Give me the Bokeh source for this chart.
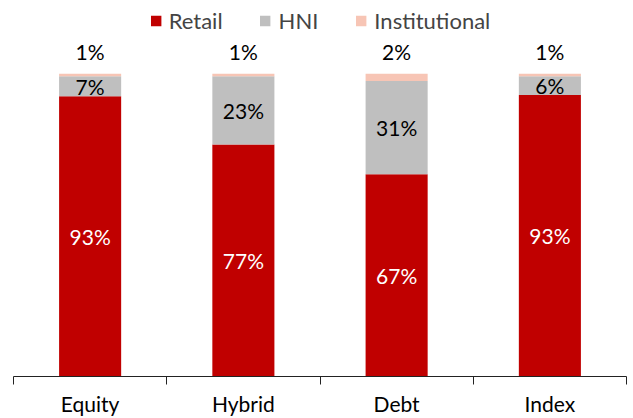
from bokeh.plotting import figure
from bokeh.models import ColumnDataSource, FixedTicker, Legend, LegendItem, Range1d
from bokeh.core.properties import value
from bokeh.embed import file_html
from bokeh.resources import INLINE

categories = ["Equity", "Hybrid", "Debt", "Index"]
retail = [92.6, 76.6, 66.8, 93.0]
hni = [6.6, 22.6, 30.8, 6.2]
institutional = [0.8, 0.8, 2.4, 0.8]

FONT = "Lato"
RED = "#C00000"
GREY = "#BFBFBF"
PINK = "#F7C5B5"

x = list(range(len(categories)))
hni_top = [r + h for r, h in zip(retail, hni)]
inst_top = [t + i for t, i in zip(hni_top, institutional)]

src = ColumnDataSource(dict(
    x=x,
    retail=retail,
    hni_bottom=retail,
    hni_top=hni_top,
    inst_top=inst_top,
    retail_mid=[r / 2 for r in retail],
    hni_mid=[r + h / 2 for r, h in zip(retail, hni)],
    inst_lab_y=[t + 7.3 for t in inst_top],
    retail_txt=[f"{round(v)}%" for v in retail],
    hni_txt=[f"{round(v)}%" for v in hni],
    inst_txt=[f"{round(v)}%" for v in institutional],
))

p = figure(width=633, height=418,
           x_range=Range1d(-0.5, len(categories) - 0.5),
           y_range=Range1d(0, 124.2),
           output_backend="svg", toolbar_location=None,
           y_axis_location=None,
           min_border_left=13, min_border_right=7,
           min_border_top=0, min_border_bottom=0)
p.outline_line_color = None
p.grid.visible = False
p.background_fill_color = "white"

bw = 0.405
r1 = p.vbar(x="x", width=bw, bottom=0, top="retail", source=src,
            fill_color=RED, line_color=None)
r2 = p.vbar(x="x", width=bw, bottom="hni_bottom", top="hni_top", source=src,
            fill_color=GREY, line_color=None)
r3 = p.vbar(x="x", width=bw, bottom="hni_top", top="inst_top", source=src,
            fill_color=PINK, line_color=None)

common = dict(source=src, text_font=value(FONT), text_font_size=value("21px"),
              text_align="center", text_baseline="middle")
p.text(x="x", y="retail_mid", text="retail_txt", text_color="white", **common)
p.text(x="x", y="hni_mid", text="hni_txt", text_color="black", **common)
p.text(x="x", y="inst_lab_y", text="inst_txt", text_color="black", **common)

legend = Legend(items=[
    LegendItem(label="Retail", renderers=[r1]),
    LegendItem(label="HNI", renderers=[r2]),
    LegendItem(label="Institutional", renderers=[r3]),
], location="top_center", orientation="horizontal")
legend.glyph_width = 13
legend.glyph_height = 13
legend.label_standoff = 7
legend.spacing = 36
legend.padding = 0
legend.margin = 7
legend.border_line_color = None
legend.background_fill_alpha = 0
legend.label_text_font = FONT
legend.label_text_font_size = "22px"
legend.label_height = 22
p.add_layout(legend, "center")

ax = p.xaxis[0]
ax.ticker = FixedTicker(ticks=x, minor_ticks=[i - 0.5 for i in range(len(categories) + 1)])
ax.major_label_overrides = {i: c for i, c in enumerate(categories)}
ax.major_tick_out = 0
ax.major_tick_in = 0
ax.minor_tick_out = 8
ax.minor_tick_in = 0
ax.minor_tick_line_color = "#222222"
ax.axis_line_color = "#222222"
ax.major_label_text_font = FONT
ax.major_label_text_font_size = "21px"
ax.major_label_text_color = "black"
ax.major_label_standoff = 6

open("out.html", "w").write(file_html(p, INLINE))
